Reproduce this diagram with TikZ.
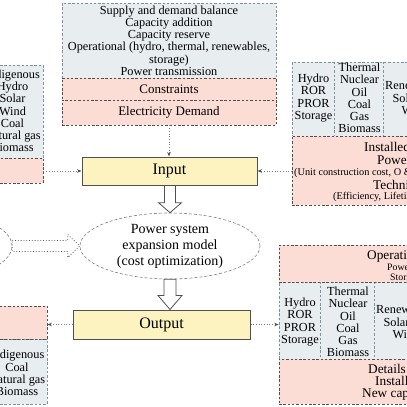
\documentclass[tikz,border=0pt]{standalone}
\usepackage{fontspec}
\setmainfont{Liberation Serif}
\usetikzlibrary{arrows.meta, shapes.geometric, positioning, calc}
\definecolor{PaleSlate}{RGB}{232,237,240}
\definecolor{SlateEdge}{RGB}{125,145,165}
\definecolor{PaleSalmon}{RGB}{251,221,214}
\definecolor{DarkEdge}{RGB}{80,80,80}
\definecolor{PaleButter}{RGB}{252,243,192}

\tikzset{
  graysec/.style={draw=SlateEdge, fill=PaleSlate, line width=0.7pt, dash pattern=on 2.5pt off 1.8pt, inner sep=0pt},
  pinksec/.style={draw=DarkEdge, fill=PaleSalmon, line width=0.8pt, dash pattern=on 2.5pt off 1.8pt, inner sep=0pt, font=\fontsize{13}{13}\selectfont},
  coldiv/.style={draw=SlateEdge, line width=0.7pt, dash pattern=on 2.5pt off 1.8pt},
  iobox/.style={draw=DarkEdge, fill=PaleButter, line width=1pt, inner sep=0pt, font=\fontsize{16}{16}\selectfont},
  listtxt/.style={align=center, inner sep=0pt, font=\fontsize{12.3}{12.2}\selectfont},
  bigtxt/.style={anchor=west, inner sep=0pt, font=\fontsize{13.3}{13}\selectfont},
  smalltxt/.style={anchor=west, inner sep=0pt, font=\fontsize{10.3}{11}\selectfont},
  modelshape/.style={ellipse, draw=gray, line width=0.6pt, dash pattern=on 3pt off 2pt, inner sep=0pt},
  flow/.style={draw=gray, line width=0.7pt, dotted, -{Stealth[length=4.5pt, width=3.5pt, color=DarkEdge]}},
  hollow/.style={draw=DarkEdge, fill=white, line width=0.8pt, line join=miter},
}

\begin{document}
\begin{tikzpicture}[x=1pt, y=-1pt]
  \useasboundingbox (0,0) rectangle (407,407);
  \fill[white] (0,0) rectangle (407,407);
  \clip (0,0) rectangle (407,407);

  % constraints block
  \node[graysec, listtxt, minimum width=214pt, minimum height=75pt] (balance) at (169,40.5)
    {Supply and demand balance\\Capacity addition\\Capacity reserve\\Operational (hydro, thermal, renewables,\\storage)\\Power transmission};
  \node[pinksec, minimum width=214pt, minimum height=22pt] (constr) at (169,89) {Constraints};
  \node[pinksec, minimum width=214pt, minimum height=25pt] (demand) at (169,112.5) {Electricity Demand};

  % resources block (left)
  \node[graysec, minimum width=103pt, minimum height=93pt] (srcGray) at (-8.5,111.5) {};
  \node[listtxt] (srcTxt) at (12.5,110.8) {Indigenous\\Hydro\\Solar\\Wind\\Coal\\Natural gas\\Biomass};
  \node[pinksec, minimum width=103pt, minimum height=25pt] (srcPink) at (-8.5,170.5) {};

  % technologies block (right)
  \node[graysec, minimum width=208pt, minimum height=74pt] (techGray) at (396,99) {};
  \draw[coldiv] ([xshift=43pt]techGray.north west) -- ([xshift=43pt]techGray.south west);
  \draw[coldiv] ([xshift=92pt]techGray.north west) -- ([xshift=92pt]techGray.south west);
  \node[listtxt] (techHydro) at (313.5,98) {Hydro\\ROR\\PROR\\Storage};
  \node[listtxt] (techThermal) at (359.5,98) {Thermal\\Nuclear\\Oil\\Coal\\Gas\\Biomass};
  \node[listtxt, anchor=west] (techRenew) at (385,98) {Renewables\\Solar PV\\Wind};
  \node[pinksec, minimum width=208pt, minimum height=69pt] (techPink) at (396,170.5) {};
  \node[bigtxt] (capTxt) at (364,147) {Installed};
  \node[bigtxt] (costTxt) at (377,160) {Power};
  \node[smalltxt] (costNote) at (294,173) {(Unit construction cost, O \&};
  \node[bigtxt] (paramTxt) at (373,185) {Technical};
  \node[smalltxt] (paramNote) at (333,197) {(Efficiency, Lifetime};

  % model
  \node[iobox, minimum width=175pt, minimum height=28pt] (input) at (169.5,171) {Input};
  \node[modelshape, minimum width=180pt, minimum height=66pt, align=center, font=\fontsize{14}{16}\selectfont] (model) at (170,246)
    {Power system\\expansion model\\(cost optimization)};
  \node[modelshape, minimum width=180pt, minimum height=72pt] (prevModel) at (-78,246) {};
  \node[iobox, minimum width=177pt, minimum height=29pt] (output) at (161.5,324.5) {Output};

  % fuel block (bottom left)
  \node[graysec, minimum width=107pt, minimum height=65pt] (fuelGray) at (-6.5,371.5) {};
  \node[listtxt] (fuelTxt) at (17,373) {Indigenous\\Coal\\Natural gas\\Biomass};
  \node[pinksec, minimum width=107pt, minimum height=33pt] (fuelPink) at (-6.5,322.5) {};

  % generation block (bottom right)
  \node[graysec, minimum width=221pt, minimum height=77pt] (genGray) at (389.5,320.5) {};
  \draw[coldiv] ([xshift=42pt]genGray.north west) -- ([xshift=42pt]genGray.south west);
  \draw[coldiv] ([xshift=96pt]genGray.north west) -- ([xshift=96pt]genGray.south west);
  \node[listtxt] (genHydro) at (300,322) {Hydro\\ROR\\PROR\\Storage};
  \node[listtxt] (genThermal) at (348,322) {Thermal\\Nuclear\\Oil\\Coal\\Gas\\Biomass};
  \node[listtxt, anchor=west] (genRenew) at (376,322) {Renewables\\Solar PV\\Wind};
  \node[pinksec, minimum width=221pt, minimum height=37pt] (opPink) at (389.5,263.5) {};
  \node[bigtxt] (opTxt) at (367,257) {Operation};
  \node[smalltxt, font=\fontsize{9.8}{10}\selectfont] (opPower) at (387,267.5) {Power};
  \node[smalltxt, font=\fontsize{9.8}{10}\selectfont] (opStore) at (390,278.5) {Storage};
  \node[pinksec, minimum width=221pt, minimum height=45pt] (detPink) at (389.5,381.5) {};
  \node[bigtxt] (detTxt) at (368,369) {Details of};
  \node[bigtxt] (detCap) at (375,381) {Installed};
  \node[bigtxt] (detNew) at (362,395) {New capacity};

  % connectors
  \draw[flow] (demand.south) -- (demand.south |- input.north);
  \draw[flow] (srcPink.east |- input.west) -- (input.west);
  \draw[flow] (techPink.west |- input.east) -- (input.east);
  \draw[flow] (output.west) -- (output.west -| fuelPink.east);
  \draw[flow] (output.east) -- (output.east -| genGray.west);

  \coordinate (tipI) at (model.north);
  \draw[hollow] ($(tipI |- input.south)+(-5.5,0)$) -- ($(tipI)+(-5.5,-10)$) -- ($(tipI)+(-11.5,-10)$)
    -- (tipI) -- ($(tipI)+(11.5,-10)$) -- ($(tipI)+(5.5,-10)$) -- ($(tipI |- input.south)+(5.5,0)$) -- cycle;
  \coordinate (tipO) at (model.south |- output.north);
  \draw[hollow] ($(model.south)+(-6,0)$) -- ($(tipO)+(-6,-14)$) -- ($(tipO)+(-12,-14)$)
    -- (tipO) -- ($(tipO)+(12,-14)$) -- ($(tipO)+(6,-14)$) -- ($(model.south)+(6,0)$) -- cycle;
  \coordinate (tipL) at (model.west);
  \draw[hollow, dotted] ($(prevModel.east)+(0,-5.5)$) -- ($(tipL)+(-12,-5.5)$) -- ($(tipL)+(-12,-11.5)$)
    -- (tipL) -- ($(tipL)+(-12,11.5)$) -- ($(tipL)+(-12,5.5)$) -- ($(prevModel.east)+(0,5.5)$) -- cycle;
\end{tikzpicture}
\end{document}
